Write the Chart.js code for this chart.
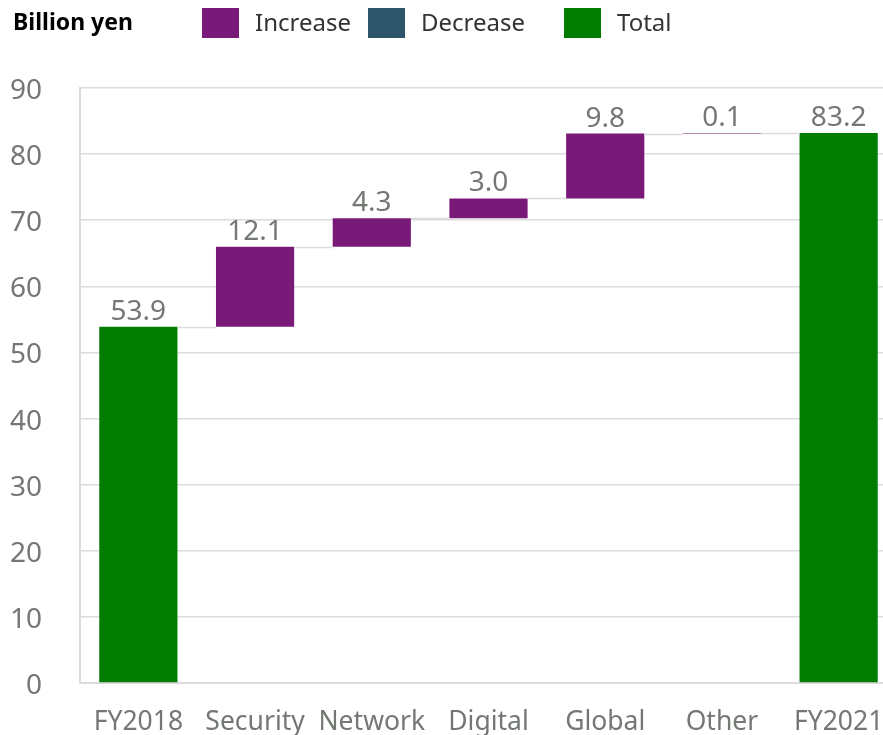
<!DOCTYPE html>
<html>
<head>
<meta charset="utf-8">
<title>Billion yen</title>
<script src="https://cdn.jsdelivr.net/npm/chart.js@4.4.1/dist/chart.umd.min.js"></script>
<style>
  html, body { margin: 0; padding: 0; overflow: hidden; background: #fff; }
  #wrap { position: relative; width: 897px; height: 735px; }
</style>
</head>
<body>
<div id="wrap"><canvas id="bridge"></canvas></div>
<script>
// operating income bridge, FY2018 -> FY2021
const categories = ['FY2018', 'Security', 'Network', 'Digital', 'Global', 'Other', 'FY2021'];
const totals = [53.9, null, null, null, null, null, 83.2];
const increases = [null, 12.1, 4.3, 3.0, 9.8, 0.1, null];
const decreases = [null, null, null, null, null, null, null];
const yTicks = [0, 10, 20, 30, 40, 50, 60, 70, 80, 90];
const unitLabel = 'Billion yen';

const COLORS = { inc: '#7a1a78', dec: '#2e546a', tot: '#007d00' };
const FONT = '"Noto Sans", "Open Sans", sans-serif';
const GREY = '#737873';
const GRID = '#dcdcdc';

// turn the steps into floating [from, to] ranges
let running = 0;
const incData = [], decData = [], totData = [], levels = [], shown = [];
categories.forEach(function(c, i) {
    incData.push(null); decData.push(null); totData.push(null);
    if (totals[i] != null) {
        totData[i] = [0, totals[i]];
        running = totals[i];
        shown.push(totals[i]);
    } else if (increases[i] != null) {
        incData[i] = [running, running + increases[i]];
        running = running + increases[i];
        shown.push(increases[i]);
    } else if (decreases[i] != null) {
        decData[i] = [running - decreases[i], running];
        running = running - decreases[i];
        shown.push(decreases[i]);
    } else {
        shown.push(null);
    }
    levels.push(running);
});

// header: unit caption + legend boxes
const headerPlugin = {
    id: 'header',
    afterDraw(chart) {
        const ctx = chart.ctx;
        ctx.save();
        ctx.fillStyle = '#000';
        ctx.font = 'bold 23px ' + FONT;
        ctx.textBaseline = 'middle';
        ctx.textAlign = 'left';
        ctx.fillText(unitLabel, 13, 23);

        const xs = [202, 368, 564];
        ctx.font = '24px ' + FONT;
        chart.data.datasets.forEach(function(ds, i) {
            ctx.fillStyle = ds.backgroundColor;
            ctx.fillRect(xs[i], 8, 37, 30);
            ctx.fillStyle = '#333';
            ctx.fillText(ds.label, xs[i] + 53, 24);
        });
        ctx.restore();
    }
};

// connector lines between bars + value labels on top
const bridgePlugin = {
    id: 'bridge',
    afterDatasetsDraw(chart) {
        const ctx = chart.ctx;
        const y = chart.scales.y;
        const bars = [];
        categories.forEach(function(c, i) {
            chart.data.datasets.forEach(function(ds, d) {
                if (ds.data[i] != null) bars[i] = chart.getDatasetMeta(d).data[i];
            });
        });

        ctx.save();
        ctx.strokeStyle = GRID;
        ctx.lineWidth = 1.5;
        for (let i = 0; i < bars.length - 1; i++) {
            const a = bars[i], b = bars[i + 1];
            const py = Math.round(y.getPixelForValue(levels[i])) + 0.5;
            ctx.beginPath();
            ctx.moveTo(a.x + a.width / 2, py);
            ctx.lineTo(b.x - b.width / 2, py);
            ctx.stroke();
        }

        ctx.fillStyle = GREY;
        ctx.font = '28px ' + FONT;
        ctx.textAlign = 'center';
        ctx.textBaseline = 'alphabetic';
        bars.forEach(function(bar, i) {
            if (shown[i] == null) return;
            const top = Math.min(bar.y, bar.base);
            ctx.fillText(shown[i].toFixed(1), bar.x, top - 7);
        });
        ctx.restore();
    }
};

new Chart(document.getElementById('bridge'), {
    type: 'bar',
    data: {
        labels: categories,
        datasets: [
            { label: 'Increase', data: incData, backgroundColor: COLORS.inc },
            { label: 'Decrease', data: decData, backgroundColor: COLORS.dec },
            { label: 'Total', data: totData, backgroundColor: COLORS.tot }
        ]
    },
    options: {
        responsive: true,
        maintainAspectRatio: false,
        animation: false,
        grouped: false,
        barPercentage: 0.67,
        categoryPercentage: 1,
        layout: { padding: { left: 5, right: 0, top: 88, bottom: 0 } },
        plugins: {
            legend: { display: false },
            tooltip: { enabled: false }
        },
        scales: {
            x: {
                // fixed band for the category names
                afterFit(scale) {
                    scale.height = 52;
                    scale.paddingLeft = 0;
                    scale.paddingRight = 0;
                },
                grid: { display: false, drawTicks: false },
                border: { display: true, color: GRID, width: 2 },
                ticks: { color: GREY, font: { family: FONT, size: 26.5 }, padding: 24, maxRotation: 0, autoSkip: false }
            },
            y: {
                min: yTicks[0],
                max: yTicks[yTicks.length - 1],
                afterBuildTicks(scale) {
                    scale.ticks = yTicks.map(function(v) { return { value: v }; });
                },
                // labels sit well left of the axis line
                afterFit(scale) {
                    scale.width = 75;
                    scale.paddingTop = 0;
                    scale.paddingBottom = 0;
                },
                grid: { color: GRID, lineWidth: 1.5, drawTicks: false },
                border: { display: true, color: GRID, width: 2 },
                ticks: { color: GREY, font: { family: FONT, size: 28 }, padding: 38, labelOffset: 3 }
            }
        }
    },
    plugins: [bridgePlugin, headerPlugin]
});
</script>
</body>
</html>
